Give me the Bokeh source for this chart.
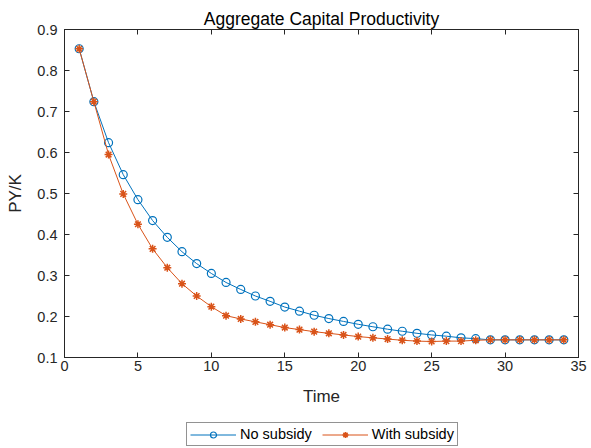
from bokeh.plotting import figure
from bokeh.models import Range1d, LinearAxis, Legend, LegendItem, FixedTicker
from bokeh.layouts import column
from bokeh.embed import file_html
from bokeh.resources import INLINE

time = list(range(1, 35))
no_subsidy = [0.853, 0.724, 0.624, 0.546, 0.485, 0.434, 0.393, 0.358, 0.329, 0.305,
              0.283, 0.266, 0.250, 0.237, 0.223, 0.213, 0.203, 0.195, 0.188, 0.181,
              0.175, 0.169, 0.164, 0.159, 0.155, 0.152, 0.148, 0.146, 0.143, 0.143,
              0.143, 0.143, 0.143, 0.143]
with_subsidy = [0.853, 0.724, 0.595, 0.499, 0.425, 0.365, 0.319, 0.280, 0.250, 0.224,
                0.202, 0.194, 0.187, 0.180, 0.173, 0.168, 0.163, 0.159, 0.155, 0.151,
                0.148, 0.145, 0.142, 0.140, 0.139, 0.140, 0.140, 0.142, 0.143, 0.143,
                0.143, 0.143, 0.143, 0.143]
series_names = ["No subsidy", "With subsidy"]
x_ticks = [0, 5, 10, 15, 20, 25, 30, 35]
y_ticks = [0.1, 0.2, 0.3, 0.4, 0.5, 0.6, 0.7, 0.8, 0.9]

BLUE = "#0072BD"
ORANGE = "#D95319"
AX = "#262626"
FONT = "Liberation Sans"

p = figure(width=591, height=410, output_backend="svg", toolbar_location=None,
           x_range=Range1d(0, 35), y_range=Range1d(0.1, 0.9),
           min_border_left=64, min_border_right=13, min_border_top=29, min_border_bottom=53)
p.grid.visible = False
p.outline_line_color = AX
p.outline_line_width = 1

p.title.text = "Aggregate Capital Productivity"
p.title.align = "center"
p.title.text_font = FONT
p.title.text_font_style = "normal"
p.title.text_font_size = "17.5px"
p.title.text_color = "#000000"
p.title.standoff = 2

def style_axis(ax, ticks, show_labels=True):
    ax.ticker = FixedTicker(ticks=ticks)
    ax.axis_line_color = AX
    ax.major_tick_line_color = AX
    ax.major_tick_in = 5
    ax.major_tick_out = 0
    ax.minor_tick_line_color = None
    ax.major_label_text_font = FONT
    ax.major_label_text_font_size = "14.5px"
    ax.major_label_text_color = AX
    ax.axis_label_text_font = FONT
    ax.axis_label_text_font_size = "17px"
    ax.axis_label_text_font_style = "normal"
    ax.axis_label_text_color = AX
    if not show_labels:
        ax.major_label_text_alpha = 0
        ax.major_label_standoff = 0

style_axis(p.xaxis[0], x_ticks)
style_axis(p.yaxis[0], y_ticks)
p.xaxis[0].axis_label = "Time"
p.yaxis[0].axis_label = "PY/K"
p.xaxis[0].major_label_standoff = 3
p.yaxis[0].major_label_standoff = 7
p.xaxis[0].axis_label_standoff = 13
p.yaxis[0].axis_label_standoff = 9

ax_top = LinearAxis()
style_axis(ax_top, x_ticks, show_labels=False)
p.add_layout(ax_top, "above")
ax_right = LinearAxis()
style_axis(ax_right, y_ticks, show_labels=False)
p.add_layout(ax_right, "right")

p.line(time, no_subsidy, line_color=BLUE, line_width=1)
p.scatter(time, no_subsidy, marker="circle", size=8, fill_color=None,
          line_color=BLUE, line_width=1.2)
p.line(time, with_subsidy, line_color=ORANGE, line_width=1)
p.scatter(time, with_subsidy, marker="asterisk", size=8,
          line_color=ORANGE, line_width=1.5)

# legend strip below the chart: same series & styles, its ranges keep the marks out of view
p2 = figure(width=591, height=38, output_backend="svg", toolbar_location=None,
            x_range=Range1d(0, 35), y_range=Range1d(5, 6),
            min_border_left=0, min_border_right=0, min_border_top=0, min_border_bottom=0)
p2.axis.visible = False
p2.grid.visible = False
p2.outline_line_color = None
l1 = p2.line(time, no_subsidy, line_color=BLUE, line_width=1)
s1 = p2.scatter(time, no_subsidy, marker="circle", size=6, fill_color=None,
                line_color=BLUE, line_width=1.2)
l2 = p2.line(time, with_subsidy, line_color=ORANGE, line_width=1)
s2 = p2.scatter(time, with_subsidy, marker="asterisk", size=6,
                line_color=ORANGE, line_width=1.5)

legend = Legend(items=[LegendItem(label=series_names[0], renderers=[l1, s1]),
                       LegendItem(label=series_names[1], renderers=[l2, s2])],
                orientation="horizontal", location=(122, 2))
legend.label_text_font = FONT
legend.label_text_font_size = "14.5px"
legend.label_text_color = "#000000"
legend.border_line_color = AX
legend.border_line_width = 1
legend.glyph_width = 46
legend.glyph_height = 15
legend.label_height = 16
legend.label_standoff = 4
legend.spacing = 10
legend.padding = 3
legend.margin = 0
p2.add_layout(legend)

layout = column(p, p2, spacing=0)
open("out.html", "w").write(file_html(layout, INLINE))
